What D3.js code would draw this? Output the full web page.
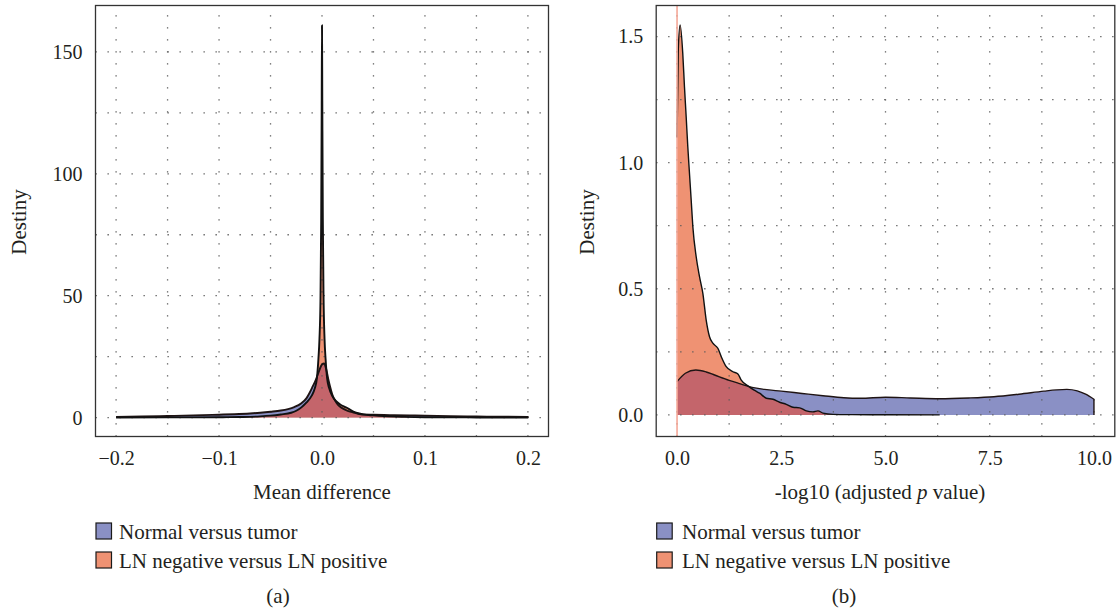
<!DOCTYPE html>
<html>
<head>
<meta charset="utf-8">
<script src="https://cdn.jsdelivr.net/npm/d3@7"></script>
<style>
  html, body { margin: 0; padding: 0; background: #fff; }
  svg { display: block; }
  text { font-family: "Liberation Serif", "DejaVu Serif", serif; fill: #231f20; }
</style>
</head>
<body>
<svg id="chart" width="1116" height="616"></svg>
<script>
// ---------------- DATA ----------------
const seriesNames = ["Normal versus tumor", "LN negative versus LN positive"];

// Panel (a): density of mean difference
const aNormalX = [-0.2, -0.175, -0.15, -0.125, -0.1, -0.085, -0.07, -0.06, -0.05, -0.04, -0.033, -0.027, -0.02, -0.015, -0.012, -0.009, -0.006, -0.003, 0, 0.002, 0.004, 0.006, 0.008, 0.01, 0.013, 0.016, 0.02, 0.025, 0.03, 0.035, 0.04, 0.05, 0.06, 0.07, 0.085, 0.1, 0.125, 0.15, 0.175, 0.2];
const aNormalY = [0.3, 0.45, 0.65, 0.9, 1.2, 1.4, 1.7, 2.0, 2.4, 2.9, 3.5, 4.3, 5.9, 8.0, 10.2, 12.8, 15.5, 19.0, 21.8, 22.2, 20.0, 16.0, 12.5, 9.5, 6.8, 5.0, 3.8, 2.8, 2.2, 1.6, 1.3, 1.2, 1.1, 1.0, 0.9, 0.8, 0.6, 0.45, 0.35, 0.3];

const aLNX = [-0.2, -0.15, -0.1, -0.08, -0.06, -0.05, -0.04, -0.03, -0.025, -0.02, -0.015, -0.01, -0.007, -0.005, -0.0035, -0.0025, -0.0015, -0.0008, -0.0003, 0, 0.0003, 0.0008, 0.0015, 0.0025, 0.0035, 0.005, 0.007, 0.01, 0.014, 0.018, 0.022, 0.026, 0.03, 0.035, 0.04, 0.05, 0.06, 0.08, 0.1, 0.15, 0.2];
const aLNY = [0.05, 0.08, 0.15, 0.25, 0.5, 0.8, 1.3, 2.0, 2.8, 4.2, 6.2, 9.0, 12.0, 16.0, 24.0, 32.0, 48.0, 80.0, 128.0, 161.0, 130.0, 82.0, 50.0, 32.0, 24.0, 16.0, 12.0, 8.8, 6.6, 5.3, 4.4, 3.6, 2.6, 1.8, 1.3, 0.9, 0.6, 0.3, 0.15, 0.07, 0.04];

const aXTicks = [-0.2, -0.1, 0.0, 0.1, 0.2];
const aXGrid = [-0.2, -0.15, -0.1, -0.05, 0, 0.05, 0.1, 0.15, 0.2];
const aYTicks = [0, 50, 100, 150];
const aYGrid = [0, 25, 50, 75, 100, 125, 150];

// Panel (b): density of -log10(adjusted p value)
const bNormalX = [0, 0.2, 0.45, 0.7, 0.9, 1.25, 1.5, 1.8, 2.1, 2.5, 3.0, 3.5, 4.0, 4.4, 5.0, 5.6, 6.3, 7.0, 7.6, 8.2, 8.8, 9.1, 9.35, 9.6, 9.8, 10];
const bNormalY = [0.132, 0.165, 0.178, 0.170, 0.158, 0.137, 0.124, 0.109, 0.101, 0.094, 0.085, 0.076, 0.068, 0.066, 0.070, 0.067, 0.064, 0.067, 0.072, 0.082, 0.094, 0.099, 0.101, 0.095, 0.082, 0.062];

const bLNX = [0, 0.03, 0.074, 0.137, 0.178, 0.219, 0.258, 0.298, 0.339, 0.379, 0.459, 0.539, 0.619, 0.699, 0.779, 0.859, 0.979, 1.06, 1.18, 1.34, 1.46, 1.54, 1.7, 1.85, 1.98, 2.14, 2.3, 2.46, 2.62, 2.78, 2.94, 3.1, 3.26, 3.38, 3.5, 3.74, 4.2, 5.0, 6.3];
const bLNY = [1.1, 1.45, 1.546, 1.434, 1.301, 1.182, 1.063, 0.958, 0.852, 0.746, 0.627, 0.548, 0.482, 0.376, 0.310, 0.284, 0.264, 0.231, 0.191, 0.171, 0.162, 0.138, 0.115, 0.098, 0.086, 0.066, 0.062, 0.050, 0.042, 0.030, 0.028, 0.016, 0.012, 0.016, 0.007, 0.002, 0.001, 0.0005, 0.0];

const bXTicks = [0, 2.5, 5, 7.5, 10];
const bXGrid = [0, 1.25, 2.5, 3.75, 5, 6.25, 7.5, 8.75, 10];
const bYTicks = [0, 0.5, 1.0, 1.5];
const bYGrid = [0, 0.25, 0.5, 0.75, 1.0, 1.25, 1.5];
const bVLine = 0;

// ---------------- STYLE ----------------
const colNormal = "#8a90c5";
const colLN = "#ef9273";
const colBoth = "#c4656b";
const colVLine = "#f5a898";

const svg = d3.select("#chart");
const defs = svg.append("defs");

function zip(xs, ys) { return xs.map((x, i) => ({x: x, y: ys[i]})); }

function drawPanel(cfg) {
  const g = svg.append("g");
  const x = d3.scaleLinear().domain(cfg.xDomain).range([cfg.left, cfg.right]);
  const y = d3.scaleLinear().domain(cfg.yDomain).range([cfg.bottom, cfg.top]);

  const clipId = "clip-" + cfg.id;
  defs.append("clipPath").attr("id", clipId)
    .append("rect").attr("x", cfg.left).attr("y", cfg.top)
    .attr("width", cfg.right - cfg.left).attr("height", cfg.bottom - cfg.top);

  const blue = zip(cfg.nX, cfg.nY);
  const red = zip(cfg.lX, cfg.lY);
  const curve = d3.curveMonotoneX;
  const area = d3.area().x(d => x(d.x)).y0(y(0)).y1(d => y(d.y)).curve(curve);
  const line = d3.line().x(d => x(d.x)).y(d => y(d.y)).curve(curve);

  const plot = g.append("g").attr("clip-path", `url(#${clipId})`);

  // fills
  plot.append("path").attr("d", area(blue)).attr("fill", colNormal);
  plot.append("path").attr("d", area(red)).attr("fill", colLN);
  const ovId = "ov-" + cfg.id;
  defs.append("clipPath").attr("id", ovId).append("path").attr("d", area(red));
  plot.append("g").attr("clip-path", `url(#${ovId})`)
    .append("path").attr("d", area(blue)).attr("fill", colBoth);

  // dotted grid
  const gridStyle = sel => sel.attr("stroke", "#5a5a5a").attr("stroke-width", 1.3)
    .attr("stroke-dasharray", "1.3,10.7").attr("fill", "none");
  cfg.xGrid.forEach(v => {
    plot.append("line").attr("x1", x(v)).attr("x2", x(v))
      .attr("y1", cfg.bottom).attr("y2", cfg.top).call(gridStyle);
  });
  cfg.yGrid.forEach(v => {
    plot.append("line").attr("x1", cfg.left).attr("x2", cfg.right)
      .attr("y1", y(v)).attr("y2", y(v)).call(gridStyle);
  });

  // outlines
  const lastB = blue[blue.length - 1];
  plot.append("path")
    .attr("d", line(blue) + `L${x(lastB.x)},${y(0)}`)
    .attr("fill", "none").attr("stroke", "#1f1414").attr("stroke-width", cfg.lw)
    .attr("stroke-linejoin", "round");
  plot.append("path").attr("d", line(red))
    .attr("fill", "none").attr("stroke", "#111").attr("stroke-width", cfg.lw)
    .attr("stroke-linejoin", "round");

  if (cfg.vline !== undefined) {
    plot.append("line").attr("x1", x(cfg.vline)).attr("x2", x(cfg.vline))
      .attr("y1", cfg.top).attr("y2", cfg.bottom)
      .attr("stroke", colVLine).attr("stroke-width", 1.6);
  }

  // panel border
  g.append("rect").attr("x", cfg.left).attr("y", cfg.top)
    .attr("width", cfg.right - cfg.left).attr("height", cfg.bottom - cfg.top)
    .attr("fill", "none").attr("stroke", "#333").attr("stroke-width", 1.3);

  // axes
  const xa = g.append("g").attr("transform", `translate(0,${cfg.bottom})`)
    .call(d3.axisBottom(x).tickValues(cfg.xTicks).tickFormat(cfg.xFmt).tickSize(0).tickPadding(14));
  const ya = g.append("g").attr("transform", `translate(${cfg.left},0)`)
    .call(d3.axisLeft(y).tickValues(cfg.yTicks).tickFormat(cfg.yFmt).tickSize(0).tickPadding(13));
  [xa, ya].forEach(a => {
    a.select(".domain").remove();
    a.selectAll("text").style("font-family", '"Liberation Serif", serif')
      .style("font-size", "20px").attr("fill", "#231f20");
  });

  // titles
  const xt = g.append("text").attr("x", cfg.xTitleX).attr("y", 499)
    .attr("text-anchor", "middle").style("font-size", "21px");
  cfg.xTitle(xt);
  g.append("text").attr("transform", `translate(${cfg.yTitleX},222) rotate(-90)`)
    .attr("text-anchor", "middle").style("font-size", "21px").text("Destiny");

  // legend
  const cols = [colNormal, colLN];
  seriesNames.forEach((name, i) => {
    const cy = 531 + i * 29;
    g.append("rect").attr("x", cfg.left + 0.5).attr("y", cy - 8).attr("width", 15.5).attr("height", 16)
      .attr("fill", cols[i]).attr("stroke", "#1a1a1a").attr("stroke-width", 1.2);
    g.append("text").attr("x", cfg.legendTextX).attr("y", cy + 7.5)
      .style("font-size", "21px").text(name);
  });

  g.append("text").attr("x", cfg.tagX).attr("y", 603).attr("text-anchor", "middle")
    .style("font-size", "21px").text(cfg.tag);
}

drawPanel({
  id: "a", left: 95.5, right: 548.5, top: 5.5, bottom: 436.5,
  xDomain: [-0.22, 0.22], yDomain: [-7.75, 169.05],
  nX: aNormalX, nY: aNormalY, lX: aLNX, lY: aLNY,
  xTicks: aXTicks, yTicks: aYTicks, xGrid: aXGrid, yGrid: aYGrid,
  xFmt: d3.format(".1f"), yFmt: d3.format("d"), lw: 1.9,
  xTitleX: 322, yTitleX: 26, legendTextX: 119, tagX: 278, tag: "(a)",
  xTitle: t => t.text("Mean difference")
});

drawPanel({
  id: "b", left: 656.2, right: 1114.8, top: 5.5, bottom: 436.5,
  xDomain: [-0.5, 10.5], yDomain: [-0.0857, 1.623],
  nX: bNormalX, nY: bNormalY, lX: bLNX, lY: bLNY,
  xTicks: bXTicks, yTicks: bYTicks, xGrid: bXGrid, yGrid: bYGrid,
  xFmt: d3.format(".1f"), yFmt: d3.format(".1f"), lw: 1.4, vline: bVLine,
  xTitleX: 880, yTitleX: 594, legendTextX: 682, tagX: 844, tag: "(b)",
  xTitle: t => {
    t.append("tspan").text("-log10 (adjusted ");
    t.append("tspan").style("font-style", "italic").text("p");
    t.append("tspan").text(" value)");
  }
});
</script>
</body>
</html>
